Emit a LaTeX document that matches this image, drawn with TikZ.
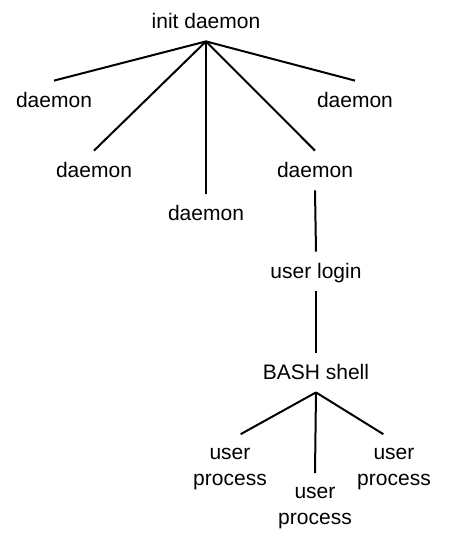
\documentclass[tikz,border=0pt]{standalone}
\usepackage{fontspec}
\setmainfont{Liberation Sans}

\begin{document}
\begin{tikzpicture}[
    x=0.5pt, y=-0.5pt,
    proc/.style={anchor=base, inner sep=5.5pt, text height=7.5pt, text depth=1pt, font=\fontsize{10.5}{12.6}\selectfont},
    leaf/.style={align=center, inner sep=7pt, font=\fontsize{10.5}{12.6}\selectfont},
    line/.style={draw, line width=1pt}
]
    \useasboundingbox (0,0) rectangle (454,554);

    % Nodes
    \node [proc] (init) at (206,28) {init daemon};

    \node [proc] (dA) at (54,107) {daemon};
    \node [proc] (dB) at (94,177) {daemon};
    \node [proc] (dC) at (206,220) {daemon};
    \node [proc] (dD) at (315,177) {daemon};
    \node [proc] (dE) at (355,107) {daemon};

    \node [proc] (login) at (316,278) {user login};
    \node [proc] (bash) at (316,379) {BASH shell};

    \node [leaf] (upA) at (230,469) {user\\process};
    \node [leaf] (upB) at (315,508) {user\\process};
    \node [leaf] (upC) at (394,469) {user\\process};

    % Connections
    \path [line] (init.south) -- (dA.north);
    \path [line] (init.south) -- (dB.north);
    \path [line] (init.south) -- (dC.north);
    \path [line] (init.south) -- (dD.north);
    \path [line] (init.south) -- (dE.north);

    \path [line] (dD.south) -- (login.north);
    \path [line] (login.south) -- (bash.north);

    \path [line] (bash.south) -- (upA.73);
    \path [line] (bash.south) -- (upB.north);
    \path [line] (bash.south) -- (upC.107);

\end{tikzpicture}
\end{document}
